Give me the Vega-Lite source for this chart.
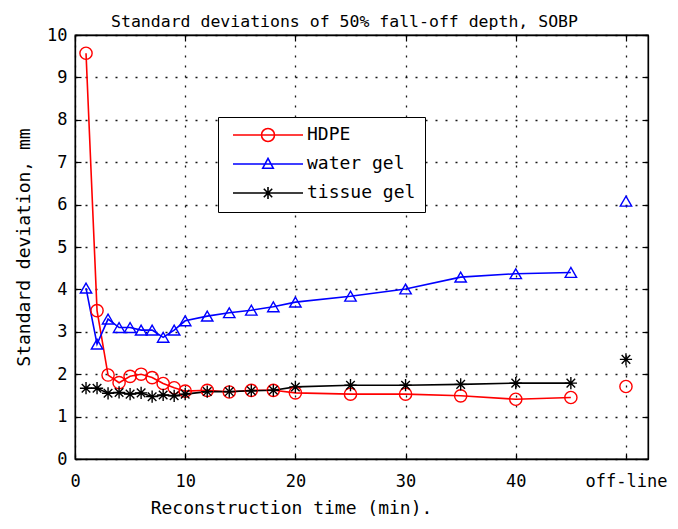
{
  "$schema": "https://vega.github.io/schema/vega-lite/v6.json",
  "width": 573,
  "height": 424,
  "autosize": {"type": "none"},
  "padding": {"left": 75, "top": 35, "right": 30, "bottom": 70},
  "background": "white",
  "title": {
    "text": "Standard deviations of 50% fall-off depth, SOBP",
    "font": "DejaVu Sans Mono",
    "fontSize": 16.5,
    "fontWeight": "normal",
    "color": "black",
    "anchor": "middle",
    "baseline": "bottom",
    "offset": 8,
    "dx": -17,
    "dy": 28
  },
  "config": {
    "view": {"stroke": "black", "strokeWidth": 1.3},
    "axis": {
      "domainColor": "black",
      "domainWidth": 1.3,
      "tickColor": "black",
      "tickWidth": 1.2,
      "tickSize": -6,
      "labelColor": "black",
      "labelFont": "DejaVu Sans Mono",
      "labelFontSize": 17,
      "titleColor": "black",
      "titleFont": "DejaVu Sans Mono",
      "titleFontSize": 18,
      "titleFontWeight": "normal",
      "gridColor": "black",
      "gridDash": [2, 8],
      "gridWidth": 1.3,
      "gridOpacity": 0.9
    },
    "legend": {
      "labelFont": "DejaVu Sans Mono",
      "labelFontSize": 18,
      "labelColor": "black"
    }
  },
  "data": {
    "values": [
      {"series": "HDPE", "time": 1, "sd": 9.57, "offline": false},
      {"series": "HDPE", "time": 2, "sd": 3.5, "offline": false},
      {"series": "HDPE", "time": 3, "sd": 1.98, "offline": false},
      {"series": "HDPE", "time": 4, "sd": 1.8, "offline": false},
      {"series": "HDPE", "time": 5, "sd": 1.95, "offline": false},
      {"series": "HDPE", "time": 6, "sd": 2.0, "offline": false},
      {"series": "HDPE", "time": 7, "sd": 1.92, "offline": false},
      {"series": "HDPE", "time": 8, "sd": 1.78, "offline": false},
      {"series": "HDPE", "time": 9, "sd": 1.68, "offline": false},
      {"series": "HDPE", "time": 10, "sd": 1.6, "offline": false},
      {"series": "HDPE", "time": 12, "sd": 1.62, "offline": false},
      {"series": "HDPE", "time": 14, "sd": 1.58, "offline": false},
      {"series": "HDPE", "time": 16, "sd": 1.62, "offline": false},
      {"series": "HDPE", "time": 18, "sd": 1.62, "offline": false},
      {"series": "HDPE", "time": 20, "sd": 1.56, "offline": false},
      {"series": "HDPE", "time": 25, "sd": 1.53, "offline": false},
      {"series": "HDPE", "time": 30, "sd": 1.53, "offline": false},
      {"series": "HDPE", "time": 35, "sd": 1.49, "offline": false},
      {"series": "HDPE", "time": 40, "sd": 1.41, "offline": false},
      {"series": "HDPE", "time": 45, "sd": 1.45, "offline": false},
      {"series": "HDPE", "time": 50, "sd": 1.71, "offline": true},
      {"series": "water gel", "time": 1, "sd": 4.03, "offline": false},
      {"series": "water gel", "time": 2, "sd": 2.71, "offline": false},
      {"series": "water gel", "time": 3, "sd": 3.3, "offline": false},
      {"series": "water gel", "time": 4, "sd": 3.1, "offline": false},
      {"series": "water gel", "time": 5, "sd": 3.1, "offline": false},
      {"series": "water gel", "time": 6, "sd": 3.04, "offline": false},
      {"series": "water gel", "time": 7, "sd": 3.04, "offline": false},
      {"series": "water gel", "time": 8, "sd": 2.87, "offline": false},
      {"series": "water gel", "time": 9, "sd": 3.04, "offline": false},
      {"series": "water gel", "time": 10, "sd": 3.26, "offline": false},
      {"series": "water gel", "time": 12, "sd": 3.37, "offline": false},
      {"series": "water gel", "time": 14, "sd": 3.45, "offline": false},
      {"series": "water gel", "time": 16, "sd": 3.51, "offline": false},
      {"series": "water gel", "time": 18, "sd": 3.59, "offline": false},
      {"series": "water gel", "time": 20, "sd": 3.7, "offline": false},
      {"series": "water gel", "time": 25, "sd": 3.84, "offline": false},
      {"series": "water gel", "time": 30, "sd": 4.01, "offline": false},
      {"series": "water gel", "time": 35, "sd": 4.29, "offline": false},
      {"series": "water gel", "time": 40, "sd": 4.37, "offline": false},
      {"series": "water gel", "time": 45, "sd": 4.4, "offline": false},
      {"series": "water gel", "time": 50, "sd": 6.08, "offline": true},
      {"series": "tissue gel", "time": 1, "sd": 1.67, "offline": false},
      {"series": "tissue gel", "time": 2, "sd": 1.67, "offline": false},
      {"series": "tissue gel", "time": 3, "sd": 1.55, "offline": false},
      {"series": "tissue gel", "time": 4, "sd": 1.57, "offline": false},
      {"series": "tissue gel", "time": 5, "sd": 1.53, "offline": false},
      {"series": "tissue gel", "time": 6, "sd": 1.56, "offline": false},
      {"series": "tissue gel", "time": 7, "sd": 1.47, "offline": false},
      {"series": "tissue gel", "time": 8, "sd": 1.51, "offline": false},
      {"series": "tissue gel", "time": 9, "sd": 1.49, "offline": false},
      {"series": "tissue gel", "time": 10, "sd": 1.53, "offline": false},
      {"series": "tissue gel", "time": 12, "sd": 1.59, "offline": false},
      {"series": "tissue gel", "time": 14, "sd": 1.59, "offline": false},
      {"series": "tissue gel", "time": 16, "sd": 1.61, "offline": false},
      {"series": "tissue gel", "time": 18, "sd": 1.62, "offline": false},
      {"series": "tissue gel", "time": 20, "sd": 1.7, "offline": false},
      {"series": "tissue gel", "time": 25, "sd": 1.74, "offline": false},
      {"series": "tissue gel", "time": 30, "sd": 1.74, "offline": false},
      {"series": "tissue gel", "time": 35, "sd": 1.76, "offline": false},
      {"series": "tissue gel", "time": 40, "sd": 1.79, "offline": false},
      {"series": "tissue gel", "time": 45, "sd": 1.79, "offline": false},
      {"series": "tissue gel", "time": 50, "sd": 2.35, "offline": true}
    ]
  },
  "layer": [
    {
      "transform": [{"filter": "!datum.offline"}],
      "mark": {"type": "line", "strokeWidth": 1.6, "clip": true},
      "encoding": {
        "x": {
          "field": "time",
          "type": "quantitative",
          "scale": {"domain": [0, 52], "nice": false, "zero": false},
          "axis": {
            "values": [0, 10, 20, 30, 40, 50],
            "labelExpr": "datum.value == 50 ? 'off-line' : datum.label",
            "labelFlush": false,
            "labelOverlap": false,
            "labelPadding": 20,
            "grid": true,
            "title": "Reconstruction time (min).",
            "titleX": 216,
            "titleY": 54,
            "titleBaseline": "alphabetic",
            "titleAnchor": "middle"
          }
        },
        "y": {
          "field": "sd",
          "type": "quantitative",
          "scale": {"domain": [0, 10], "nice": false},
          "axis": {
            "values": [0, 1, 2, 3, 4, 5, 6, 7, 8, 9, 10],
            "labelFlush": false,
            "labelOverlap": false,
            "labelPadding": 14,
            "grid": true,
            "title": "Standard deviation, mm",
            "titleAngle": -90,
            "titleX": -46,
            "titleY": 212,
            "titleAlign": "center",
            "titleBaseline": "alphabetic"
          }
        },
        "color": {
          "field": "series",
          "type": "nominal",
          "scale": {"domain": ["HDPE", "water gel", "tissue gel"], "range": ["#ff0000", "#0000ff", "#000000"]},
          "legend": {
            "title": null,
            "orient": "none",
            "legendX": 143,
            "legendY": 82,
            "strokeColor": "black",
            "fillColor": "white",
            "padding": 9,
            "symbolSize": 196,
            "symbolStrokeWidth": 1.6,
            "symbolOffset": 32,
            "labelOffset": 30,
            "rowPadding": 10,
            "encode": {
              "symbols": {
                "update": {
                  "fill": {"value": "transparent"},
                  "shape": {"signal": "datum.value === 'HDPE' ? 'M-5,0H5M0.93,0A0.93,0.93 0 1,1 -0.93,0A0.93,0.93 0 1,1 0.93,0' : datum.value === 'water gel' ? 'M-5,0H5M0,-0.8L0.75,0.6H-0.75Z' : 'M-5,0H5M0,-0.85V0.85M-0.6,-0.6L0.6,0.6M-0.6,0.6L0.6,-0.6'"}
                }
              }
            }
          }
        }
      }
    },
    {
      "transform": [{"filter": "datum.series === 'HDPE'"}],
      "mark": {"type": "point", "shape": "circle", "filled": false, "stroke": "#ff0000", "strokeWidth": 1.4, "size": 150, "opacity": 1},
      "encoding": {
        "x": {
          "field": "time",
          "type": "quantitative",
          "axis": {"orient": "top", "values": [0, 10, 20, 30, 40, 50], "labels": false, "grid": false, "title": null}
        },
        "y": {
          "field": "sd",
          "type": "quantitative",
          "axis": {"orient": "right", "values": [0, 1, 2, 3, 4, 5, 6, 7, 8, 9, 10], "labels": false, "grid": false, "title": null}
        }
      }
    },
    {
      "transform": [{"filter": "datum.series === 'water gel'"}],
      "mark": {"type": "point", "shape": "triangle-up", "filled": false, "stroke": "#0000ff", "strokeWidth": 1.4, "size": 130, "opacity": 1},
      "encoding": {
        "x": {"field": "time", "type": "quantitative", "axis": null},
        "y": {"field": "sd", "type": "quantitative", "axis": null}
      }
    },
    {
      "transform": [{"filter": "datum.series === 'tissue gel'"}],
      "mark": {"type": "point", "shape": "M-1,0H1M0,-1V1M-0.7,-0.7L0.7,0.7M-0.7,0.7L0.7,-0.7", "filled": false, "stroke": "#000000", "strokeWidth": 1.4, "size": 150, "opacity": 1},
      "encoding": {
        "x": {"field": "time", "type": "quantitative", "axis": null},
        "y": {"field": "sd", "type": "quantitative", "axis": null}
      }
    }
  ],
  "resolve": {"axis": {"x": "independent", "y": "independent"}}
}
